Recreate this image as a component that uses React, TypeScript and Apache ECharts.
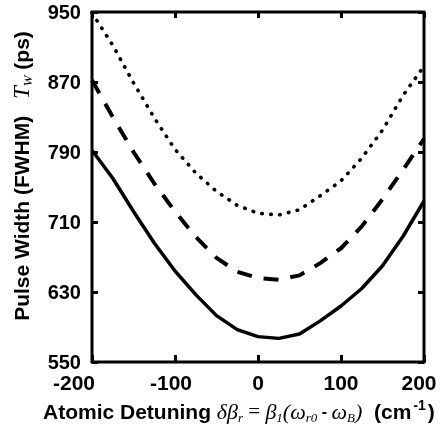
import React, { useEffect, useRef } from 'react';
import * as echarts from 'echarts';

// Atomic detuning (cm^-1)
const detuning = [-200, -175, -150, -125, -100, -75, -50, -25, 0, 25, 50, 75, 100, 125, 150, 175, 200];
// Pulse width T_W (ps) for the three curves
const dottedWidth = [949, 912, 869, 829, 793, 766, 745, 729, 720, 718, 724, 740, 757, 783, 815, 855, 888];
const dashedWidth = [872, 830, 790, 754, 722, 693, 669, 653, 646, 644, 649, 663, 680, 705, 736, 770, 805];
const solidWidth = [792, 760, 722, 686, 654, 627, 603, 587, 579, 577, 582, 597, 614, 634, 660, 694, 734];
// Tick labels
const yTicks = [550, 630, 710, 790, 870, 950];
const xTicks = [-200, -100, 0, 100, 200];

const SANS = '"Liberation Sans", Arial, Helvetica, sans-serif';
const SERIF = '"Liberation Serif", "Times New Roman", serif';

export default function App() {
  const ref = useRef<HTMLDivElement>(null);
  useEffect(() => {
    const chart = echarts.init(ref.current!, null, { renderer: 'svg' });
    const pair = (ys: number[]) => detuning.map((x, i) => [x, ys[i]]);
    const tickStyle = { color: '#000', width: 3 };
    const labelPad: Record<number, string> = { [-200]: 'a', [-100]: 'b', [200]: 'c' };
    const tickFont = { color: '#000', fontSize: 20, fontWeight: 'bold', fontFamily: SANS };
    const xTickFont = { ...tickFont, fontSize: 21 };
    chart.setOption({
      animation: false,
      grid: {
        left: 92, top: 12, width: 332, height: 350,
        show: true, borderColor: '#000', borderWidth: 3, backgroundColor: 'transparent',
      },
      xAxis: [
        {
          type: 'value', min: xTicks[0], max: xTicks[xTicks.length - 1], interval: 100,
          axisLine: { show: false, onZero: false },
          axisTick: { show: true, inside: true, length: 7, lineStyle: tickStyle },
          splitLine: { show: false },
          axisLabel: {
            margin: 10, ...xTickFont,
            showMinLabel: true, showMaxLabel: true,
            formatter: (v: number) => (labelPad[v] ? `{${labelPad[v]}|${v}}` : String(v)),
            rich: {
              a: { ...xTickFont, padding: [0, 36, 0, 0] },
              b: { ...xTickFont, padding: [0, 8, 0, 0] },
              c: { ...xTickFont, padding: [0, 10, 0, 0] },
            },
          },
        },
        {
          type: 'value', position: 'top', min: xTicks[0], max: xTicks[xTicks.length - 1], interval: 100,
          axisLine: { show: false, onZero: false },
          axisTick: { show: true, inside: true, length: 6, lineStyle: tickStyle },
          splitLine: { show: false },
          axisLabel: { show: false },
        },
      ],
      yAxis: [
        {
          type: 'value', min: yTicks[0], max: yTicks[yTicks.length - 1],
          axisLine: { show: false, onZero: false },
          axisTick: { show: true, inside: true, length: 6, lineStyle: tickStyle, customValues: yTicks },
          splitLine: { show: false },
          axisLabel: { margin: 11, ...tickFont, customValues: yTicks },
        },
        {
          type: 'value', position: 'right', min: yTicks[0], max: yTicks[yTicks.length - 1],
          axisLine: { show: false, onZero: false },
          axisTick: { show: true, inside: true, length: 6, lineStyle: tickStyle, customValues: yTicks },
          splitLine: { show: false },
          axisLabel: { show: false, customValues: yTicks },
        },
      ],
      series: [
        {
          type: 'line', data: pair(dottedWidth), showSymbol: false, symbol: 'none',
          lineStyle: { color: '#000', width: 3.6, type: [0.5, 8.5], cap: 'round' },
        },
        {
          type: 'line', data: pair(dashedWidth), showSymbol: false, symbol: 'none',
          lineStyle: { color: '#000', width: 4, type: [15, 12], cap: 'butt' },
        },
        {
          type: 'line', data: pair(solidWidth), showSymbol: false, symbol: 'none',
          lineStyle: { color: '#000', width: 3.5, type: 'solid' },
        },
      ],
      graphic: [
        {
          type: 'text', x: 21, y: 176, rotation: Math.PI / 2,
          style: {
            text: '{b|Pulse Width (FWHM)}{s|   }{t|T}{w|W}{b| (ps)}',
            align: 'center', verticalAlign: 'middle',
            rich: {
              b: { fill: '#000', fontSize: 21, fontWeight: 'bold', fontFamily: SANS, lineHeight: 26 },
              s: { fill: '#000', fontSize: 20, fontFamily: SANS, lineHeight: 26 },
              t: { fill: '#000', fontSize: 23, fontStyle: 'italic', fontFamily: SERIF, lineHeight: 26 },
              w: { fill: '#000', fontSize: 13, fontStyle: 'italic', fontFamily: SERIF, lineHeight: 11, verticalAlign: 'bottom' },
            },
          },
        },
        {
          type: 'text', x: 43, y: 411,
          style: {
            text: '{b|Atomic Detuning }{i|δβ}{sub|r}{m| = }{i|β}{sub|1}{i|(ω}{sub|r0}{h| - }{i|ω}{sub|B}{i|)}{b|  (cm}{sup|-1}{b|)}',
            align: 'left', verticalAlign: 'middle',
            rich: {
              b: { fill: '#000', fontSize: 21, fontWeight: 'bold', fontFamily: SANS, lineHeight: 26 },
              i: { fill: '#000', fontSize: 22, fontStyle: 'italic', fontFamily: SERIF, lineHeight: 26 },
              m: { fill: '#000', fontSize: 21, fontFamily: SERIF, lineHeight: 26 },
              h: { fill: '#000', fontSize: 16, fontWeight: 'bold', fontFamily: SANS, lineHeight: 26 },
              sub: { fill: '#000', fontSize: 13, fontStyle: 'italic', fontFamily: SERIF, lineHeight: 10, verticalAlign: 'bottom' },
              sup: { fill: '#000', fontSize: 14, fontWeight: 'bold', fontFamily: SANS, lineHeight: 12, verticalAlign: 'top', padding: [0, 2, 0, 2] },
            },
          },
        },
      ],
    });
    return () => chart.dispose();
  }, []);
  return <div ref={ref} style={{ position: 'fixed', left: 0, top: 0, width: 442, height: 434 }} />;
}
